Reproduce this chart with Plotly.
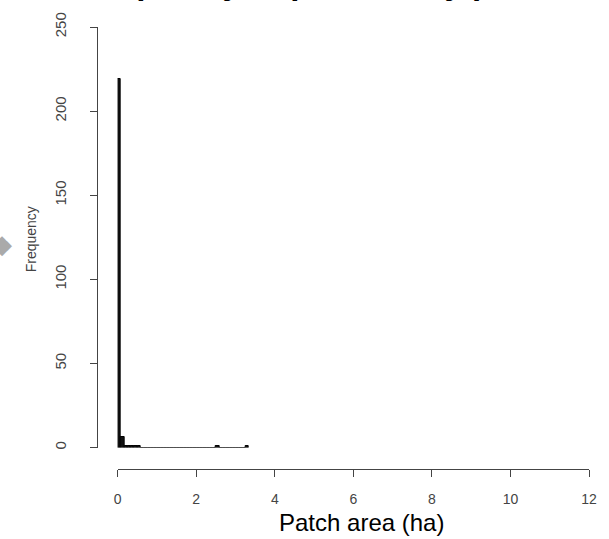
import numpy as np
import plotly.graph_objects as go

# ---- data ----
bin_min = 0.0
bin_max = 3.34
n_bins = 40
counts = [219, 6, 1, 1, 1, 1, 1, 0, 0, 0,
          0, 0, 0, 0, 0, 0, 0, 0, 0, 0,
          0, 0, 0, 0, 0, 0, 0, 0, 0, 0,
          1, 0, 0, 0, 0, 0, 0, 0, 0, 1]
x_ticks = [0, 2, 4, 6, 8, 10, 12]
y_ticks = [0, 50, 100, 150, 200, 250]
title_text = "Frequency of patches by patch size"
x_title = "Patch area (ha)"
y_title = "Frequency"

edges = np.linspace(bin_min, bin_max, n_bins + 1)
centers = (edges[:-1] + edges[1:]) / 2
width = edges[1] - edges[0]

W, H = 609, 539
ml, mr, mt, mb = 97, 12, 15, 70
PW = W - ml - mr
PH = H - mt - mb

fig = go.Figure()
fig.add_trace(go.Scatter(
    x=edges, y=[0] * len(edges), mode="lines",
    line=dict(color="#666666", width=1), cliponaxis=False,
    hoverinfo="skip", showlegend=False))
fig.add_trace(go.Bar(
    x=centers, y=counts, width=width,
    marker=dict(color="#111111", line=dict(color="#000000", width=1)),
    showlegend=False))

font = "Arial, Liberation Sans, sans-serif"
fig.update_layout(
    width=W, height=H,
    margin=dict(l=ml, r=mr, t=mt, b=mb, pad=0),
    paper_bgcolor="white", plot_bgcolor="white",
    bargap=0,
    xaxis=dict(domain=[(118 - ml) / PW, 1], range=[0, 12], anchor="free", position=0,
               tickvals=x_ticks, ticks="outside", ticklen=7, tickcolor="#444",
               showline=True, linecolor="#444", linewidth=1, showgrid=False, zeroline=False,
               tickfont=dict(family=font, size=14, color="#444"), ticklabelstandoff=10),
    yaxis=dict(domain=[(469 - 447) / PH, 1], range=[0, 250], anchor="free", position=0,
               tickvals=y_ticks, ticks="outside", ticklen=7, tickcolor="#444", tickangle=-90,
               showline=True, linecolor="#444", linewidth=1, showgrid=False, zeroline=False,
               tickfont=dict(family=font, size=15, color="#444"), ticklabelstandoff=18),
    annotations=[
        dict(text=f"<b>{title_text}</b>", xref="paper", yref="paper",
             x=((118 + 597) / 2 - ml) / PW, y=1 + (mt + 10) / PH, xanchor="center", yanchor="bottom",
             showarrow=False, font=dict(family=font, size=33, color="#000")),
        dict(text=x_title, xref="paper", yref="paper",
             x=(366 - ml) / PW, y=-(524 - (H - mb)) / PH, xanchor="center", yanchor="middle",
             showarrow=False, font=dict(family=font, size=24, color="#000")),
        dict(text=y_title, xref="paper", yref="paper", textangle=-90,
             x=(30 - ml) / PW, y=(H - mb - 233) / PH, xanchor="center", yanchor="middle",
             showarrow=False, font=dict(family=font, size=14, color="#444")),
        dict(text="◆", xref="paper", yref="paper",
             x=(0 - ml) / PW, y=(H - mb - 238) / PH, xanchor="center", yanchor="middle",
             showarrow=False, font=dict(family=font, size=26, color="#aaaaaa")),
    ],
)

fig.write_html("out.html")
